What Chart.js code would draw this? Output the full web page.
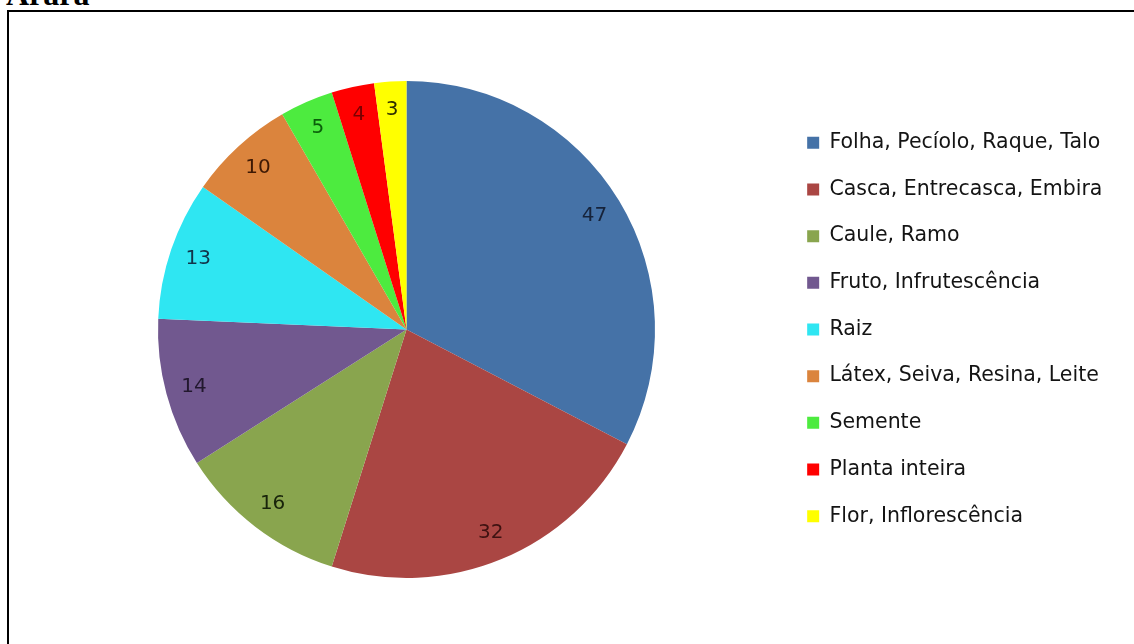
<!DOCTYPE html>
<html>
<head>
<meta charset="utf-8">
<script src="https://cdn.jsdelivr.net/npm/chart.js@4.4.1/dist/chart.umd.min.js"></script>
<style>
  html, body { margin: 0; padding: 0; background: #fff; width: 1134px; height: 644px; overflow: hidden; }
  #title { position: absolute; left: 6px; top: -22px; font: bold 32px "Liberation Serif", "Times New Roman", serif; line-height: 1; color: #000; }
  #frame { position: absolute; left: 7px; top: 10px; width: 1200px; height: 700px; border-left: 2px solid #000; border-top: 2px solid #000; }
  #wrap { position: absolute; left: 0; top: 0; width: 1134px; height: 644px; }
</style>
</head>
<body>
<div id="title">Arara</div>
<div id="frame"></div>
<div id="wrap"><canvas id="c" width="1134" height="644"></canvas></div>
<script>
const categories = [
  "Folha, Pecíolo, Raque, Talo",
  "Casca, Entrecasca, Embira",
  "Caule, Ramo",
  "Fruto, Infrutescência",
  "Raiz",
  "Látex, Seiva, Resina, Leite",
  "Semente",
  "Planta inteira",
  "Flor, Inflorescência"
];
const values = [47, 32, 16, 14, 13, 10, 5, 4, 3];
const sliceColors = ["#4572A7", "#AA4643", "#89A54E", "#71588F", "#2FE6F2", "#DB843D", "#4DEB3F", "#FF0000", "#FFFF00"];
const labelColors = ["#16233A", "#3E1211", "#18230A", "#22182E", "#12344A", "#3E1904", "#0A5E0A", "#7A0000", "#2E2E00"];

const FONT = "DejaVu Sans";

const sliceLabels = {
  id: "sliceLabels",
  afterDatasetsDraw(chart) {
    const ctx = chart.ctx;
    const meta = chart.getDatasetMeta(0);
    ctx.save();
    ctx.font = "20px '" + FONT + "'";
    ctx.textAlign = "center";
    ctx.textBaseline = "middle";
    meta.data.forEach((arc, i) => {
      const p = arc.getProps(["x", "y", "startAngle", "endAngle", "outerRadius"], true);
      const mid = (p.startAngle + p.endAngle) / 2;
      const r = p.outerRadius * 0.885;
      ctx.fillStyle = labelColors[i];
      ctx.fillText(String(values[i]), p.x + Math.cos(mid) * r, p.y + Math.sin(mid) * r);
    });
    ctx.restore();
  }
};

const placeBoxes = {
  id: "placeBoxes",
  afterLayout(chart) {
    const a = chart.chartArea;
    a.left = 158; a.right = 655; a.top = 81; a.bottom = 578;
    a.width = a.right - a.left; a.height = a.bottom - a.top;
    const lg = chart.legend;
    const w = lg.width;
    lg.left = 781; lg.right = 781 + w;
  }
};

new Chart(document.getElementById("c"), {
  type: "pie",
  data: {
    labels: categories,
    datasets: [{
      data: values,
      backgroundColor: sliceColors,
      borderWidth: 0
    }]
  },
  options: {
    responsive: false,
    animation: false,
    layout: { padding: { left: 158, top: 81, bottom: 66, right: 0 } },
    plugins: {
      tooltip: { enabled: false },
      legend: {
        position: "right",
        align: "center",
        labels: {
          boxWidth: 12,
          boxHeight: 12,
          padding: 26.17,
          color: "#141414",
          font: { family: FONT, size: 20.5 }
        }
      }
    }
  },
  plugins: [sliceLabels, placeBoxes]
});
</script>
</body>
</html>
